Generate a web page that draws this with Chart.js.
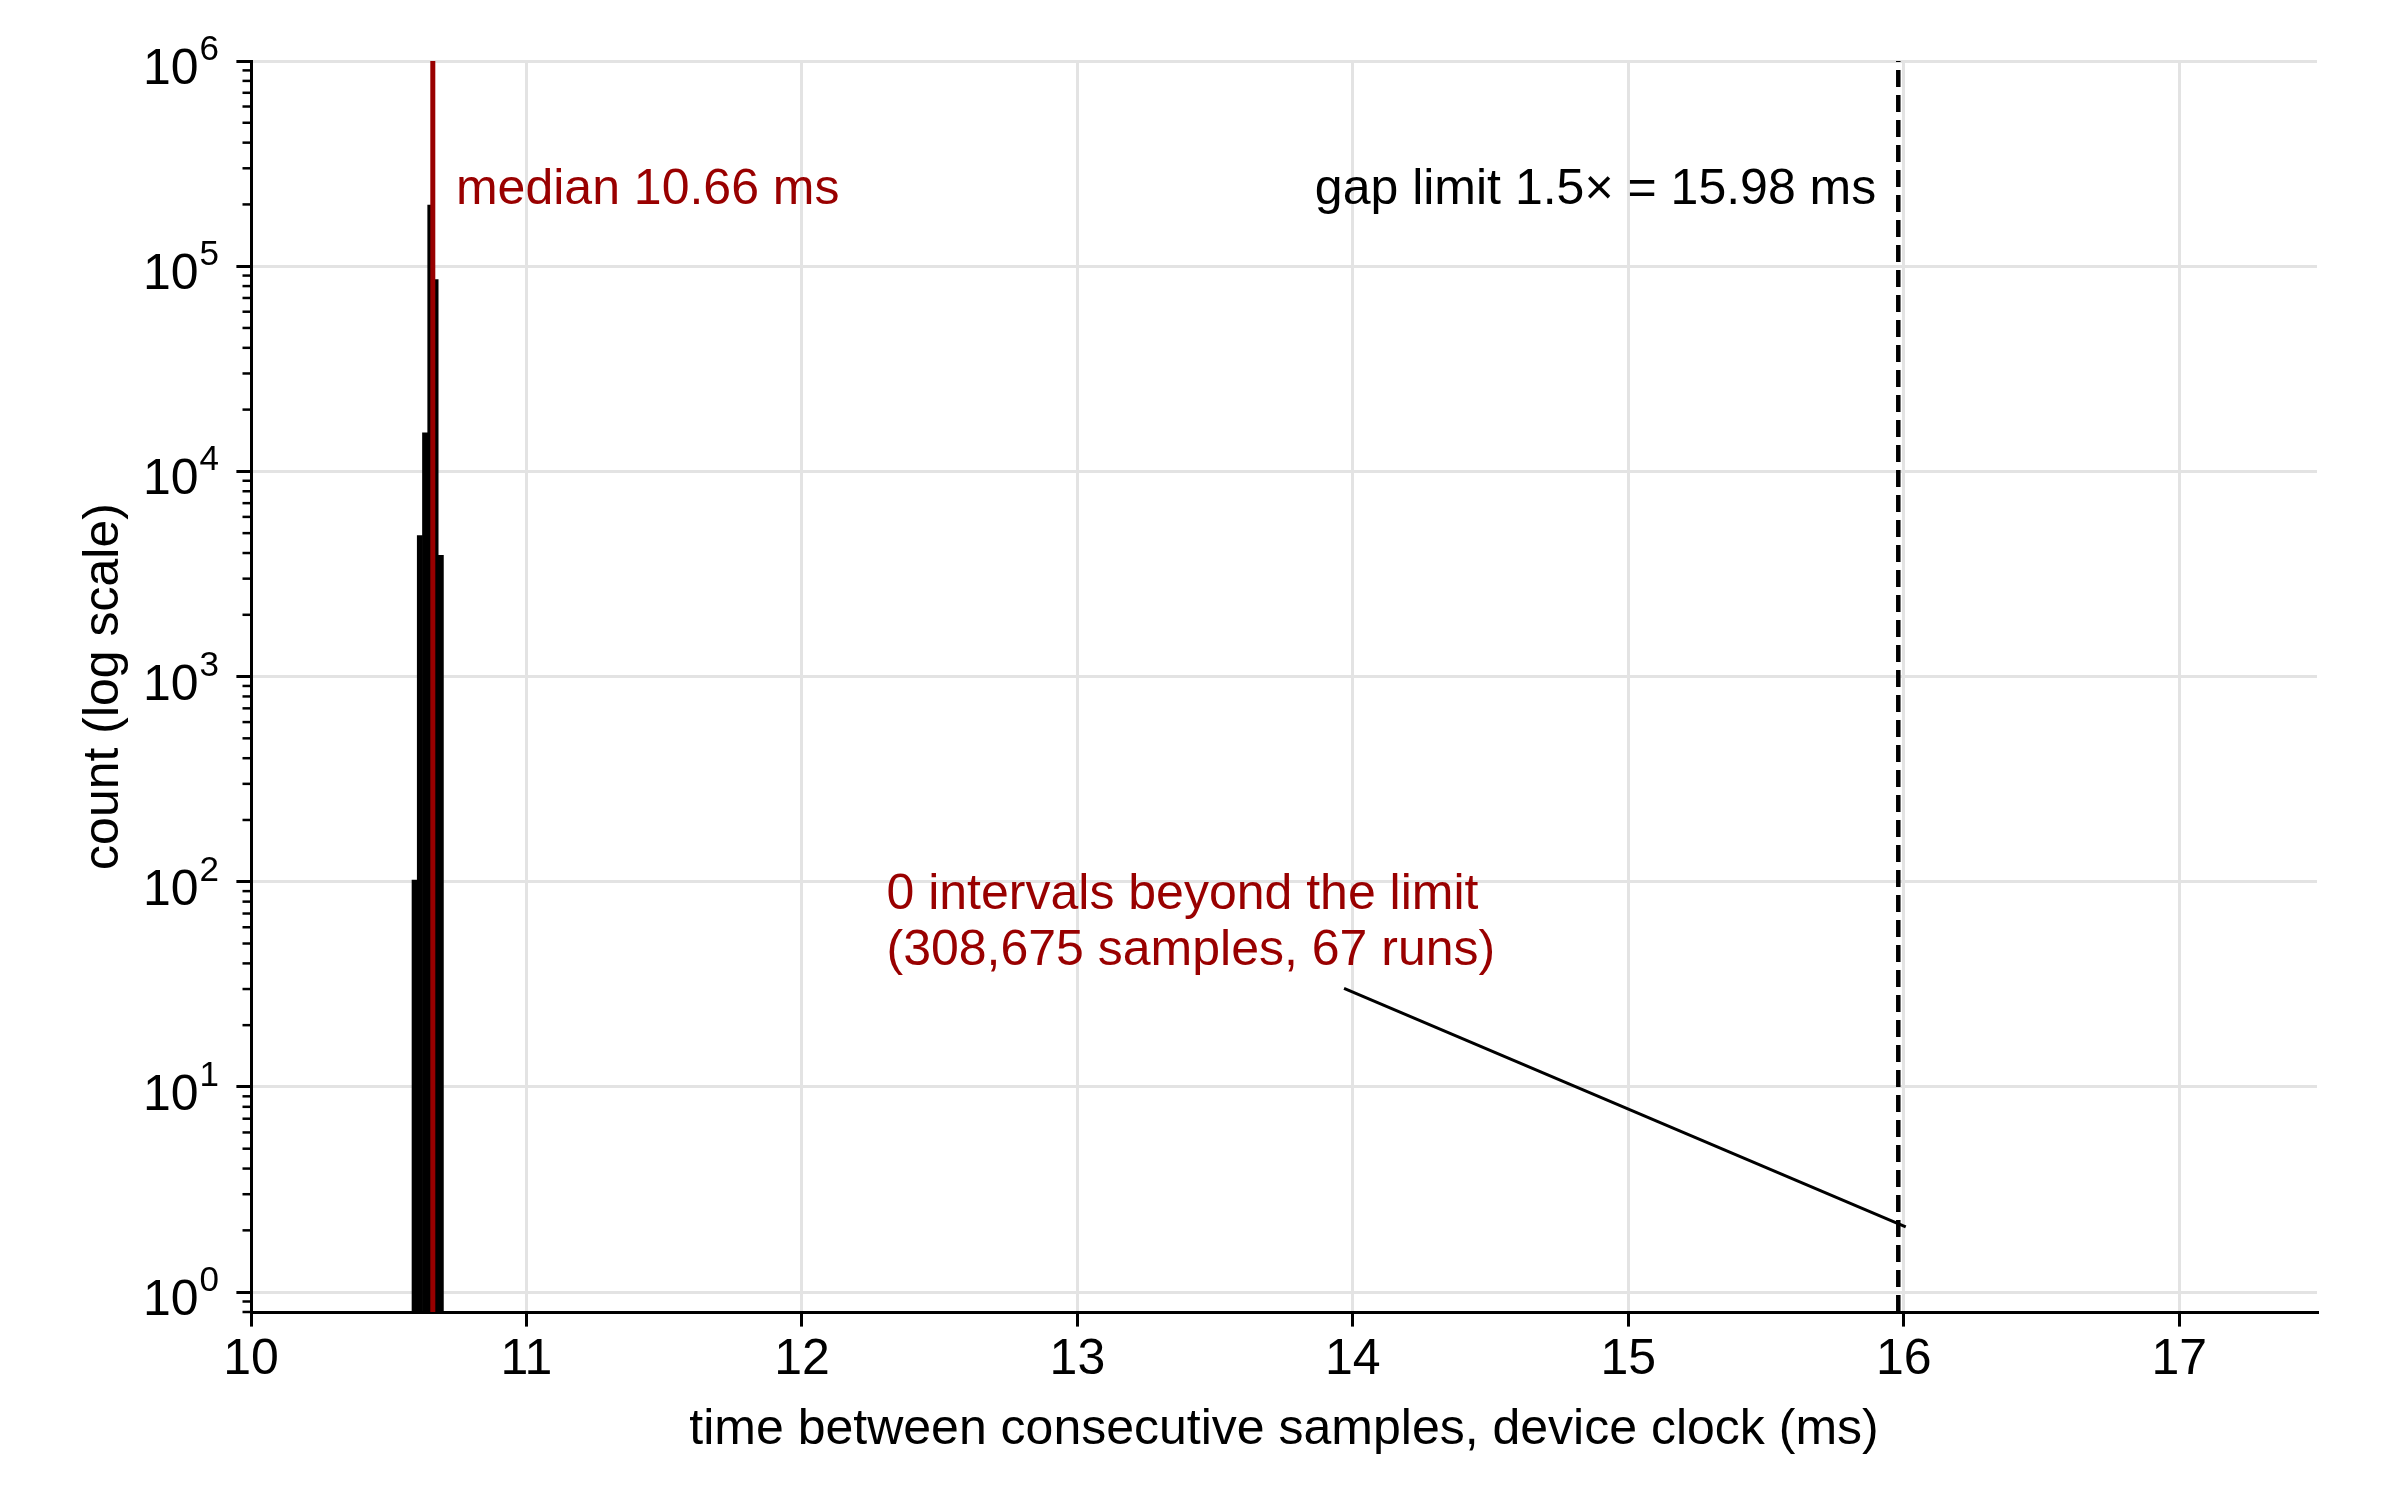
<!DOCTYPE html>
<html>
<head>
<meta charset="utf-8">
<script src="https://cdn.jsdelivr.net/npm/chart.js@4.4.1/dist/chart.umd.min.js"></script>
<style>
  html, body { margin: 0; padding: 0; background: #ffffff; }
  #wrap { width: 2400px; height: 1500px; }
</style>
</head>
<body>
<div id="wrap"><canvas id="c" width="2400" height="1500"></canvas></div>
<script>
// ---- data ----
const binCenters = [10.594, 10.613, 10.632, 10.651, 10.670, 10.689];   // ms
const binCounts  = [102, 4860, 15400, 198350, 86000, 3900];
const medianMs = 10.66;
const gapLimitMs = 15.98;
const xTickValues = [10, 11, 12, 13, 14, 15, 16, 17];
const yMajorTicks = [1, 10, 100, 1000, 10000, 100000, 1000000];
const yMajorExponents = ['0', '1', '2', '3', '4', '5', '6'];
const xRange = [10, 17.5];
const yRange = [0.8, 1000000];
const leaderStart = [13.968, 30.2];
const leaderEnd = [16.007, 2.08];
const medianLabel = 'median 10.66 ms';
const medianLabelPos = [10.744, 200000];
const limitLabel = 'gap limit 1.5\u00D7 = 15.98 ms';
const limitLabelPos = [15.90, 200000];
const noteLines = ['0 intervals beyond the limit', '(308,675 samples, 67 runs)'];
const noteLinePos = [[12.307, 74], [12.307, 39.5]];
const xTitle = 'time between consecutive samples, device clock (ms)';
const yTitle = 'count (log scale)';

const RED = '#990000';
const FONT = '"Liberation Sans", Arial, Helvetica, sans-serif';
const FS = 50;
const SUP_FS = 35;

const minorTicks = [];
for (let k = -1; k <= 5; k++) {
  for (let m = 2; m <= 9; m++) {
    const v = m * Math.pow(10, k);
    if (v >= yRange[0] - 1e-9 && v <= yRange[1]) minorTicks.push(v);
  }
}

const annotationPlugin = {
  id: 'annotTexts',
  afterDraw(chart) {
    const ctx = chart.ctx;
    const xs = chart.scales.x, ys = chart.scales.y;
    const area = chart.chartArea;
    ctx.save();
    // minor ticks on the log axis
    ctx.strokeStyle = '#000';
    ctx.lineWidth = 2.5;
    minorTicks.forEach(v => {
      const py = ys.getPixelForValue(v);
      ctx.beginPath();
      ctx.moveTo(area.left - 8.5, py);
      ctx.lineTo(area.left, py);
      ctx.stroke();
    });
    // y tick labels as 10 with a raised exponent
    ctx.fillStyle = '#000';
    ctx.textBaseline = 'alphabetic';
    ctx.textAlign = 'right';
    const rightX = area.left - 32;
    yMajorTicks.forEach((v, i) => {
      const py = ys.getPixelForValue(v);
      const base = py + 23;
      ctx.font = SUP_FS + 'px ' + FONT;
      const supW = ctx.measureText(yMajorExponents[i]).width;
      ctx.fillText(yMajorExponents[i], rightX, base - 24);
      ctx.font = FS + 'px ' + FONT;
      ctx.fillText('10', rightX - supW - 1, base);
    });
    ctx.font = FS + 'px ' + FONT;
    ctx.textBaseline = 'alphabetic';
    ctx.fillStyle = RED;
    ctx.textAlign = 'left';
    ctx.fillText(medianLabel, xs.getPixelForValue(medianLabelPos[0]), ys.getPixelForValue(medianLabelPos[1]));
    noteLines.forEach((t, i) => {
      ctx.fillText(t, xs.getPixelForValue(noteLinePos[i][0]), ys.getPixelForValue(noteLinePos[i][1]));
    });
    ctx.fillStyle = '#000';
    ctx.textAlign = 'right';
    ctx.fillText(limitLabel, xs.getPixelForValue(limitLabelPos[0]), ys.getPixelForValue(limitLabelPos[1]));
    ctx.restore();
  }
};

const ctx = document.getElementById('c').getContext('2d');
new Chart(ctx, {
  type: 'bar',
  data: {
    datasets: [
      {
        type: 'bar',
        label: 'intervals',
        data: binCenters.map((x, i) => ({ x: x, y: binCounts[i] })),
        backgroundColor: '#000000',
        borderWidth: 0,
        barPercentage: 1.0,
        categoryPercentage: 1.0,
        order: 4
      },
      {
        type: 'line',
        label: 'median',
        data: [{ x: medianMs, y: yRange[0] }, { x: medianMs, y: yRange[1] }],
        borderColor: RED,
        borderWidth: 5,
        pointRadius: 0,
        fill: false,
        order: 1
      },
      {
        type: 'line',
        label: 'gap limit',
        data: [{ x: gapLimitMs, y: yRange[0] }, { x: gapLimitMs, y: yRange[1] }],
        borderColor: '#000000',
        borderWidth: 4.5,
        borderDash: [17, 8],
        pointRadius: 0,
        fill: false,
        order: 2
      },
      {
        type: 'line',
        label: 'leader',
        data: [{ x: leaderStart[0], y: leaderStart[1] }, { x: leaderEnd[0], y: leaderEnd[1] }],
        borderColor: '#000000',
        borderWidth: 3,
        pointRadius: 0,
        fill: false,
        order: 3
      }
    ]
  },
  options: {
    responsive: false,
    animation: false,
    devicePixelRatio: 1,
    layout: { padding: { top: 61, right: 83, left: 0, bottom: 0 } },
    font: { family: FONT, size: FS },
    plugins: {
      legend: { display: false },
      tooltip: { enabled: false }
    },
    scales: {
      x: {
        type: 'linear',
        offset: false,
        min: xRange[0],
        max: xRange[1],
        afterBuildTicks: (s) => { s.ticks = xTickValues.map(v => ({ value: v })); },
        afterFit: (s) => { s.height = 188; },
        grid: { offset: false, color: '#e3e3e3', lineWidth: 3, tickLength: 14.6, tickColor: '#000', tickWidth: 3 },
        border: { display: true, color: '#000', width: 3 },
        ticks: {
          autoSkip: false, maxRotation: 0, padding: 4, color: '#000',
          font: { family: FONT, size: FS },
          callback: (v) => String(v)
        },
        title: {
          display: true, text: xTitle, color: '#000',
          font: { family: FONT, size: FS },
          padding: { top: 0, bottom: 40 }
        }
      },
      y: {
        type: 'logarithmic',
        min: yRange[0],
        max: yRange[1],
        afterBuildTicks: (s) => { s.ticks = yMajorTicks.map(v => ({ value: v, major: true })); },
        afterFit: (s) => { s.width = 251; },
        grid: { color: '#e3e3e3', lineWidth: 3, tickLength: 14.6, tickColor: '#000', tickWidth: 3 },
        border: { display: true, color: '#000', width: 3 },
        ticks: {
          autoSkip: false, padding: 17, color: '#000',
          font: { family: FONT, size: FS },
          callback: () => ''
        },
        title: {
          display: true, text: yTitle, color: '#000',
          font: { family: FONT, size: FS },
          padding: { top: 74, bottom: 0 }
        }
      }
    }
  },
  plugins: [annotationPlugin]
});
</script>
</body>
</html>
